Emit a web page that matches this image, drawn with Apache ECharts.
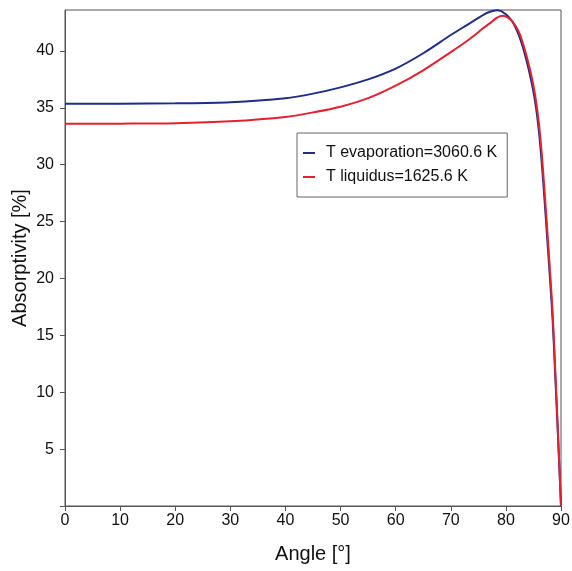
<!DOCTYPE html>
<html>
<head>
<meta charset="utf-8">
<script src="https://cdn.jsdelivr.net/npm/echarts@6/dist/echarts.min.js"></script>
<style>
  html, body { margin: 0; padding: 0; background: #fff; }
  #chart { width: 572px; height: 571px; }
</style>
</head>
<body>
<div id="chart"></div>
<script>
// angle in degrees
var angles = [0, 10, 20, 30, 40, 45, 50, 55, 60, 65, 70, 73, 75, 76, 77, 78, 78.5, 79, 79.5, 80, 80.5, 81, 81.5, 82, 82.5, 83, 83.5, 84, 84.5, 85, 85.5, 86, 86.5, 87, 87.5, 88, 88.5, 89, 89.5, 90];
// absorptivity [%]
var evapValues = [35.35, 35.36, 35.4, 35.5, 35.85, 36.25, 36.8, 37.5, 38.45, 39.8, 41.4, 42.3, 42.9, 43.2, 43.42, 43.55, 43.57, 43.52, 43.4, 43.22, 43.0, 42.7, 42.3, 41.8, 41.2, 40.45, 39.6, 38.65, 37.6, 36.4, 34.9, 32.9, 30.2, 27.0, 23.5, 20.0, 16.2, 11.0, 5.6, 0];
var liqValues = [33.6, 33.61, 33.65, 33.82, 34.2, 34.6, 35.1, 35.85, 36.95, 38.3, 39.9, 40.9, 41.65, 42.05, 42.4, 42.8, 42.96, 43.06, 43.1, 43.02, 42.88, 42.68, 42.38, 42.0, 41.5, 40.8, 40.0, 39.1, 38.1, 36.95, 35.5, 33.6, 31.0, 27.8, 24.3, 20.7, 16.8, 11.5, 5.9, 0];
var seriesNames = ['T evaporation=3060.6 K', 'T liquidus=1625.6 K'];

function pairs(xs, ys) {
  return xs.map(function (x, i) { return [x, ys[i]]; });
}

var chart = echarts.init(document.getElementById('chart'));
var font = 'Liberation Sans, Arial, sans-serif';
var axisCol = '#555';

var option = {
  animation: false,
  color: ['#1c2d8a', '#e8202e'],
  grid: {
    left: 65, right: 11, top: 10, bottom: 65,
    outerBoundsMode: 'none',
    show: true, borderColor: axisCol, borderWidth: 1
  },
  legend: {
    orient: 'vertical',
    left: 297, top: 133,
    width: 212,
    padding: [12, 10, 12, 6],
    itemGap: 8,
    itemWidth: 12, itemHeight: 2,
    icon: 'rect',
    backgroundColor: '#fff',
    borderColor: '#666', borderWidth: 1,
    textStyle: { fontFamily: font, fontSize: 16, color: '#111', padding: [0, 0, 0, 6] },
    data: seriesNames
  },
  xAxis: {
    type: 'value',
    min: 0, max: 90, interval: 10,
    name: 'Angle [°]', nameLocation: 'middle', nameGap: 38,
    nameTextStyle: { fontFamily: font, fontSize: 20, color: '#111' },
    axisLine: { show: true, lineStyle: { color: axisCol } },
    axisTick: { show: true, length: 5, lineStyle: { color: axisCol } },
    axisLabel: { fontFamily: font, fontSize: 16, color: '#111', margin: 7 },
    splitLine: { show: false }
  },
  yAxis: {
    type: 'value',
    min: 0, max: 43.6, interval: 5,
    name: 'Absorptivity [%]', nameLocation: 'middle', nameGap: 35,
    nameMoveOverlap: false,
    nameTextStyle: { fontFamily: font, fontSize: 20, color: '#111' },
    axisLine: { show: true, lineStyle: { color: axisCol } },
    axisTick: { show: true, length: 5, lineStyle: { color: axisCol } },
    axisLabel: {
      fontFamily: font, fontSize: 16, color: '#111', margin: 11,
      showMaxLabel: false,
      formatter: function (v) { return v === 0 ? '' : v; }
    },
    splitLine: { show: false }
  },
  series: [
    {
      name: seriesNames[0], type: 'line', data: pairs(angles, evapValues),
      showSymbol: false, smooth: 0.3, lineStyle: { width: 2 }
    },
    {
      name: seriesNames[1], type: 'line', data: pairs(angles, liqValues),
      showSymbol: false, smooth: 0.3, lineStyle: { width: 2 }
    }
  ]
};
chart.setOption(option);
</script>
</body>
</html>
